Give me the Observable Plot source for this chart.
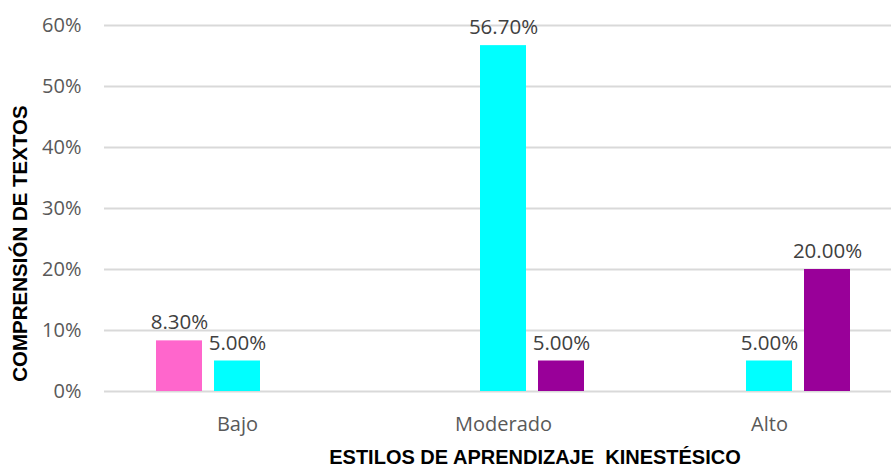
<!DOCTYPE html>
<html><head><meta charset="utf-8">
<script src="https://cdn.jsdelivr.net/npm/d3@7"></script>
<script src="https://cdn.jsdelivr.net/npm/@observablehq/plot@0.6"></script>
<style>body{margin:0;background:#fff;} svg{overflow:hidden;display:block}</style>
</head><body><div id="chart"></div>
<script>
const groups = ["Bajo", "Moderado", "Alto"];
const series = ["Serie 1", "Serie 2", "Serie 3"];
const colors = ["#FF66CC", "#00FFFF", "#990099"];
const barGroup = ["Bajo", "Bajo", "Moderado", "Moderado", "Alto", "Alto"];
const barSeries = ["Serie 1", "Serie 2", "Serie 2", "Serie 3", "Serie 2", "Serie 3"];
const barValue = [8.3, 5.0, 56.7, 5.0, 5.0, 20.0];
const yTicks = [0, 10, 20, 30, 40, 50, 60];
const xTitle = "ESTILOS DE APRENDIZAJE  KINESTÉSICO";
const yTitle = "COMPRENSIÓN DE TEXTOS";

const data = barValue.map((v, i) => ({g: barGroup[i], s: barSeries[i], v}));

const chart = Plot.plot({
  width: 891, height: 468,
  marginLeft: 103, marginRight: -12, marginTop: 25, marginBottom: 77,
  style: {fontFamily: "'Open Sans'", fontSize: "20px", color: "#595959", background: "#fff"},
  fx: {domain: groups, padding: 0, label: null, axis: "bottom", tickSize: 0, tickPadding: 25},
  x: {domain: series, paddingInner: 0.2034, paddingOuter: 0.862, axis: null},
  y: {domain: [0, 60], ticks: yTicks, tickFormat: d => d + "%", tickSize: 0, tickPadding: 23, label: null},
  color: {domain: series, range: colors},
  marks: [
    Plot.ruleY(yTicks, {stroke: "#d9d9d9", strokeWidth: 2}),
    Plot.barY(data, {fx: "g", x: "s", y: "v", fill: "s"}),
    Plot.text(data, {fx: "g", x: "s", y: "v", text: d => d.v.toFixed(2) + "%", dy: -18, fill: "#404040", fontSize: 20.5})
  ]
});

const svg = d3.select(chart);
svg.append("text")
  .attr("x", 535).attr("y", 464)
  .attr("text-anchor", "middle")
  .attr("font-family", "'Liberation Sans', Arial, sans-serif")
  .attr("font-weight", "bold").attr("font-size", 20)
  .attr("fill", "#000")
  .style("white-space", "pre")
  .text(xTitle);
svg.append("text")
  .attr("transform", "translate(20,243.5) rotate(-90)")
  .attr("text-anchor", "middle")
  .attr("dy", "0.36em")
  .attr("font-family", "'Liberation Sans', Arial, sans-serif")
  .attr("font-weight", "bold").attr("font-size", 20.5)
  .attr("fill", "#000")
  .text(yTitle);

document.getElementById("chart").appendChild(chart);
</script>
</body></html>
